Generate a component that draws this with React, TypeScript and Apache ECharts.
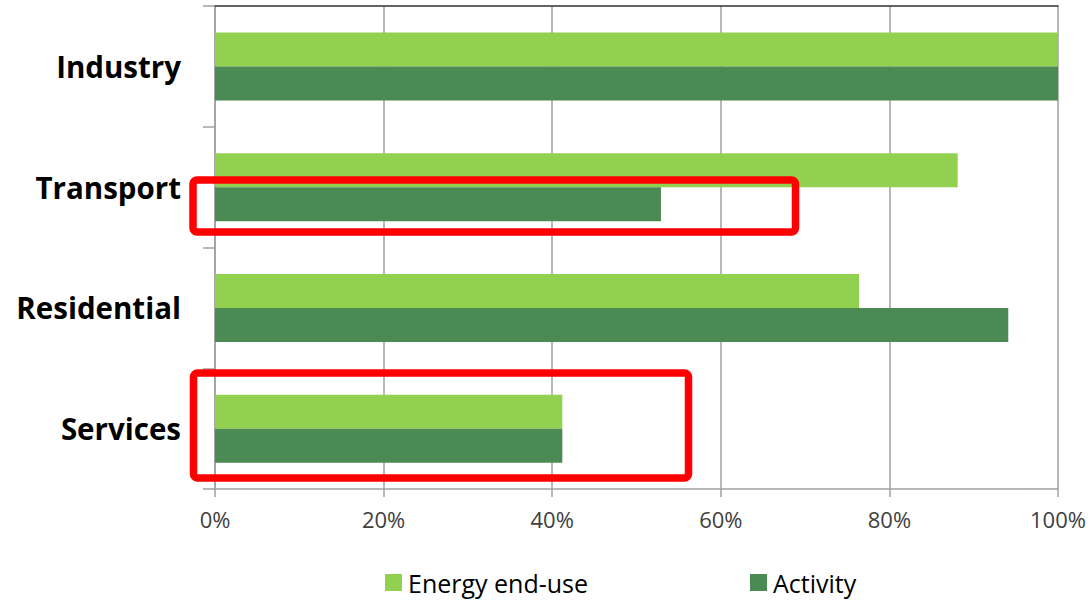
import React, { useEffect, useRef } from "react";
import * as echarts from "echarts";

const categories = ["Industry", "Transport", "Residential", "Services"];
const energyEndUse = [1.0, 0.881, 0.764, 0.412];
const activity = [1.0, 0.529, 0.941, 0.412];
const xTicks = [0, 0.2, 0.4, 0.6, 0.8, 1.0];

const LIGHT = "#92D050";
const DARK = "#4B8A53";
const FONT = "'Open Sans', 'Liberation Sans', sans-serif";

export default function App() {
  const ref = useRef<HTMLDivElement>(null);
  useEffect(() => {
    if (!ref.current) return;
    const chart = echarts.init(ref.current, undefined, { renderer: "svg" });
    const legendText = { fontSize: 25, color: "#000", fontFamily: FONT, padding: [0, 0, 0, 1] };
    chart.setOption({
      animation: false,
      backgroundColor: "#ffffff",
      textStyle: { fontFamily: FONT },
      grid: { left: 215, right: 32, top: 6, bottom: 111, containLabel: false },
      xAxis: [
        {
          type: "value",
          min: xTicks[0],
          max: xTicks[xTicks.length - 1],
          interval: 0.2,
          axisLine: { show: true, lineStyle: { color: "#A0A0A0", width: 1.5 } },
          axisTick: { show: true, length: 8, lineStyle: { color: "#A0A0A0", width: 1.5 } },
          splitLine: { show: true, lineStyle: { color: "#A0A0A0", width: 1.5 } },
          axisLabel: {
            color: "#404040",
            fontSize: 22,
            fontFamily: FONT,
            margin: 19,
            formatter: (v: number) => Math.round(v * 100) + "%",
          },
        },
        {
          type: "value",
          position: "top",
          min: 0,
          max: 1,
          axisLine: { show: true, lineStyle: { color: "#303030", width: 1.5 } },
          axisTick: { show: false },
          axisLabel: { show: false },
          splitLine: { show: false },
        },
      ],
      yAxis: {
        type: "category",
        data: categories,
        inverse: true,
        axisLine: { show: true, lineStyle: { color: "#A0A0A0", width: 1.5 } },
        axisTick: { show: true, length: 12, lineStyle: { color: "#A0A0A0", width: 1.5 } },
        axisLabel: {
          color: "#000000",
          fontSize: 29.5,
          fontWeight: "bold",
          fontFamily: FONT,
          margin: 34,
        },
      },
      legend: [
        {
          data: ["Energy end-use"],
          left: 385,
          top: 570,
          padding: 0,
          itemWidth: 17,
          itemHeight: 17,
          icon: "rect",
          textStyle: legendText,
        },
        {
          data: ["Activity"],
          left: 750,
          top: 570,
          padding: 0,
          itemWidth: 17,
          itemHeight: 17,
          icon: "rect",
          textStyle: legendText,
        },
      ],
      series: [
        {
          name: "Energy end-use",
          type: "bar",
          data: energyEndUse,
          barWidth: 34,
          barGap: "0%",
          itemStyle: { color: LIGHT },
        },
        {
          name: "Activity",
          type: "bar",
          data: activity,
          barWidth: 34,
          barGap: "0%",
          itemStyle: { color: DARK },
        },
      ],
      graphic: [
        {
          type: "rect",
          z: 100,
          shape: { x: 193, y: 180, width: 602.5, height: 52, r: 4 },
          style: { fill: "none", stroke: "#FF0000", lineWidth: 7.5 },
        },
        {
          type: "rect",
          z: 100,
          shape: { x: 193.5, y: 373, width: 495, height: 105, r: 4 },
          style: { fill: "none", stroke: "#FF0000", lineWidth: 7.5 },
        },
      ],
    });
    return () => chart.dispose();
  }, []);
  return <div ref={ref} style={{ width: 1090, height: 600, position: "absolute", left: 0, top: 0 }} />;
}
